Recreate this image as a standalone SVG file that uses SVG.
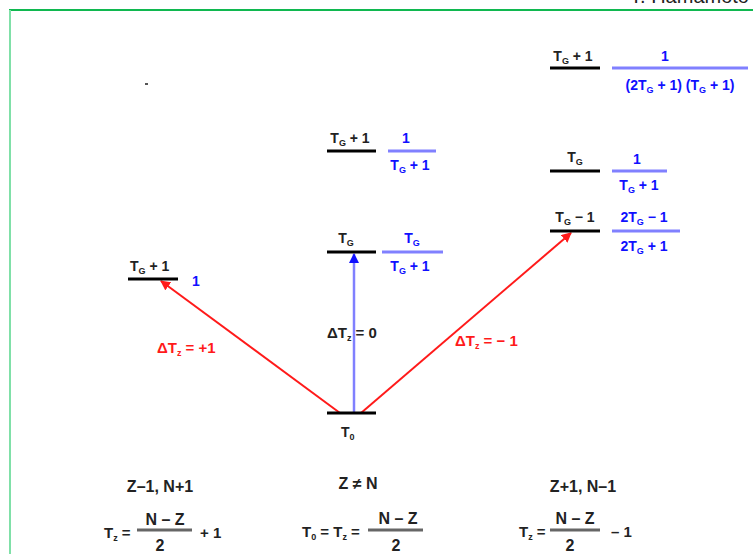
<svg xmlns="http://www.w3.org/2000/svg" width="753" height="554" viewBox="0 0 753 554">
<defs>
<style>
text{font-family:"Liberation Sans",Arial,sans-serif;font-weight:bold;font-size:14px}
.k{fill:#222}
.b{fill:#1010ff}
.r{fill:#ff1a1a}
.m{text-anchor:middle}
.lg{font-size:15px}
.xl{font-size:16px}
.lvl{stroke:#000;stroke-width:3}
.fr{stroke:#8080ff;stroke-width:3}
.fk{stroke:#666;stroke-width:3}
.s{font-size:9px}
</style>
<marker id="ar" viewBox="0 0 10 10" refX="9" refY="5" markerWidth="5" markerHeight="5" orient="auto"><path d="M0,0 L10,5 L0,10 z" fill="#ff1a1a"/></marker>
<marker id="ab" viewBox="0 0 10 10" refX="9" refY="5" markerWidth="4" markerHeight="4" orient="auto"><path d="M0,0 L10,5 L0,10 z" fill="#1010ff"/></marker>
</defs>
<rect width="753" height="554" fill="#fff"/>
<g id="frame">
<line x1="9" y1="10" x2="753" y2="10" stroke="#10b850" stroke-width="2"/>
<line x1="10" y1="10" x2="10" y2="554" stroke="#80e0a8" stroke-width="2"/>
<text x="749" y="3" style="font-weight:normal;font-size:20px;text-anchor:end" fill="#222">T. Hamamoto</text>
<rect x="145" y="83" width="3" height="2" fill="#555"/>
</g>
<g id="connectors">
<line x1="340" y1="413" x2="161" y2="281" stroke="#ff1a1a" stroke-width="2" marker-end="url(#ar)"/>
<line x1="354" y1="413" x2="354" y2="254" stroke="#8080ff" stroke-width="2.5" marker-end="url(#ab)"/>
<line x1="361" y1="413" x2="571" y2="233" stroke="#ff1a1a" stroke-width="2" marker-end="url(#ar)"/>
<text x="157" y="353" class="r lg">ΔT<tspan class="s" dy="3">z</tspan><tspan dy="-3"> = +1</tspan></text>
<text x="327" y="338" class="k lg">ΔT<tspan class="s" dy="3">z</tspan><tspan dy="-3"> = 0</tspan></text>
<text x="455" y="346" class="r lg">ΔT<tspan class="s" dy="3">z</tspan><tspan dy="-3"> = − 1</tspan></text>
</g>
<g id="left-TG1">
<line x1="128" y1="279" x2="178" y2="279" class="lvl"/>
<text x="130" y="271" class="k">T<tspan class="s" dy="3">G</tspan><tspan dy="-3"> + 1</tspan></text>
<text x="192" y="286" class="b">1</text>
</g>
<g id="center-T0">
<line x1="327" y1="413" x2="376" y2="413" class="lvl"/>
<text x="341" y="437" class="k">T<tspan class="s" dy="3">0</tspan></text>
</g>
<g id="center-TG">
<line x1="327" y1="252" x2="376" y2="252" class="lvl"/>
<text x="346" y="243" class="k m">T<tspan class="s" dy="3">G</tspan></text>
<text x="412" y="243" class="b m">T<tspan class="s" dy="3">G</tspan></text>
<line x1="382" y1="252" x2="443" y2="252" class="fr"/>
<text x="410" y="271" class="b m">T<tspan class="s" dy="3">G</tspan><tspan dy="-3"> + 1</tspan></text>
</g>
<g id="center-TG1">
<line x1="327" y1="151" x2="376" y2="151" class="lvl"/>
<text x="350" y="143" class="k m">T<tspan class="s" dy="3">G</tspan><tspan dy="-3"> + 1</tspan></text>
<text x="406" y="143" class="b m">1</text>
<line x1="388" y1="151" x2="436" y2="151" class="fr"/>
<text x="410" y="170" class="b m">T<tspan class="s" dy="3">G</tspan><tspan dy="-3"> + 1</tspan></text>
</g>
<g id="right-TG1">
<line x1="550" y1="68" x2="600" y2="68" class="lvl"/>
<text x="573" y="61" class="k m">T<tspan class="s" dy="3">G</tspan><tspan dy="-3"> + 1</tspan></text>
<text x="665" y="61" class="b m">1</text>
<line x1="612" y1="68" x2="748" y2="68" class="fr"/>
<text x="680" y="90" class="b m">(2T<tspan class="s" dy="3">G</tspan><tspan dy="-3"> + 1) (T</tspan><tspan class="s" dy="3">G</tspan><tspan dy="-3"> + 1)</tspan></text>
</g>
<g id="right-TG">
<line x1="550" y1="171" x2="600" y2="171" class="lvl"/>
<text x="575" y="162" class="k m">T<tspan class="s" dy="3">G</tspan></text>
<text x="637" y="164" class="b m">1</text>
<line x1="612" y1="171" x2="667" y2="171" class="fr"/>
<text x="639" y="190" class="b m">T<tspan class="s" dy="3">G</tspan><tspan dy="-3"> + 1</tspan></text>
</g>
<g id="right-TGm1">
<line x1="550" y1="231" x2="600" y2="231" class="lvl"/>
<text x="575" y="222" class="k m">T<tspan class="s" dy="3">G</tspan><tspan dy="-3"> − 1</tspan></text>
<text x="644" y="222" class="b m">2T<tspan class="s" dy="3">G</tspan><tspan dy="-3"> − 1</tspan></text>
<line x1="612" y1="231" x2="680" y2="231" class="fr"/>
<text x="644" y="251" class="b m">2T<tspan class="s" dy="3">G</tspan><tspan dy="-3"> + 1</tspan></text>
</g>
<g id="bottom-left">
<text x="160" y="492" class="k m xl">Z–1, N+1</text>
<text x="104" y="538" class="k lg">T<tspan class="s" dy="3">z</tspan><tspan dy="-3"> =</tspan></text>
<text x="165" y="525" class="k m xl">N – Z</text>
<line x1="137" y1="530" x2="192" y2="530" class="fk"/>
<text x="160" y="551" class="k m xl">2</text>
<text x="200" y="538" class="k lg">+ 1</text>
</g>
<g id="bottom-center">
<text x="358" y="489" class="k m xl">Z ≠ N</text>
<text x="302" y="537" class="k lg">T<tspan class="s" dy="3">0</tspan><tspan dy="-3"> = T</tspan><tspan class="s" dy="3">z</tspan><tspan dy="-3"> =</tspan></text>
<text x="398" y="524" class="k m xl">N – Z</text>
<line x1="368" y1="530" x2="423" y2="530" class="fk"/>
<text x="396" y="551" class="k m xl">2</text>
</g>
<g id="bottom-right">
<text x="583" y="492" class="k m xl">Z+1, N–1</text>
<text x="519" y="537" class="k lg">T<tspan class="s" dy="3">z</tspan><tspan dy="-3"> =</tspan></text>
<text x="575" y="524" class="k m xl">N – Z</text>
<line x1="550" y1="530" x2="600" y2="530" class="fk"/>
<text x="570" y="551" class="k m xl">2</text>
<text x="611" y="537" class="k lg">– 1</text>
</g>
</svg>
